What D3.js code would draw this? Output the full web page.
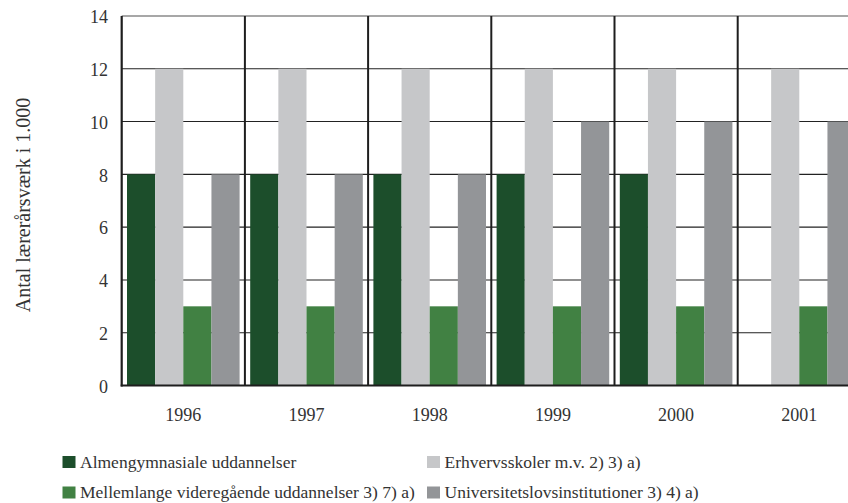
<!DOCTYPE html>
<html><head><meta charset="utf-8">
<script src="https://cdn.jsdelivr.net/npm/d3@7"></script>
<style>body{margin:0;background:#fff;}svg{display:block;} text{font-family:"Liberation Serif","DejaVu Serif",serif;}</style>
</head><body>
<script>
const years = ["1996","1997","1998","1999","2000","2001"];
const seriesNames = ["Almengymnasiale uddannelser","Erhvervsskoler m.v. 2) 3) a)","Mellemlange videregående uddannelser 3) 7) a)","Universitetslovsinstitutioner 3) 4) a)"];
const seriesColors = ["#1c4e2b","#c6c7c9","#418143","#939598"];
const almen = [8,8,8,8,8,null];
const erhverv = [12,12,12,12,12,12];
const mellem = [3,3,3,3,3,3];
const univ = [8,8,8,10,10,10];
const yTicks = [0,2,4,6,8,10,12,14];
const seriesValues = [almen, erhverv, mellem, univ];

(function(){
const W=848,H=503;
const FF='"Liberation Serif", serif';
const svg=d3.select("body").append("svg").attr("width",W).attr("height",H);
const pLeft=121.7, bandW=123.2, pTop=16, pBottom=385.5;
const x=d3.scaleBand().domain(years).range([pLeft,pLeft+bandW*years.length]).paddingInner(0).paddingOuter(0);
const xs=d3.scaleBand().domain(d3.range(4)).range([5.3,bandW-5.3]).padding(0);
const y=d3.scaleLinear().domain([0,14]).range([pBottom,pTop]);

const g=svg.append("g");
g.selectAll("line.grid").data(yTicks.filter(d=>d>0&&d<14)).join("line")
 .attr("x1",pLeft).attr("x2",W).attr("y1",d=>y(d)).attr("y2",d=>y(d))
 .attr("stroke","#222").attr("stroke-width",1.1);
g.append("line").attr("x1",pLeft).attr("x2",W).attr("y1",y(14)).attr("y2",y(14)).attr("stroke","#8a8a8a").attr("stroke-width",1.5);
years.forEach((yr,i)=>{
  seriesValues.forEach((arr,s)=>{
    const v=arr[i]; if(v==null) return;
    g.append("rect").attr("x",x(yr)+xs(s)).attr("width",xs.bandwidth())
     .attr("y",y(v)).attr("height",y(0)-y(v)).attr("fill",seriesColors[s]);
  });
});
g.selectAll("line.sep").data(years.slice(1)).join("line")
 .attr("x1",d=>x(d)).attr("x2",d=>x(d)).attr("y1",pTop).attr("y2",pBottom)
 .attr("stroke","#1e1e1e").attr("stroke-width",2);
g.append("line").attr("x1",pLeft).attr("x2",pLeft).attr("y1",pTop).attr("y2",pBottom+1).attr("stroke","#1e1e1e").attr("stroke-width",2.2);
g.append("line").attr("x1",pLeft-1).attr("x2",W).attr("y1",pBottom).attr("y2",pBottom).attr("stroke","#1e1e1e").attr("stroke-width",2.2);

const ya=d3.axisLeft(y).tickValues(yTicks).tickSize(0).tickPadding(0);
const yg=svg.append("g").attr("transform",`translate(108,0)`).call(ya);
yg.attr("font-family",FF).attr("font-size",18);
yg.select(".domain").remove();
yg.selectAll("text").attr("fill","#333").attr("dy","0.38em");
const xa=d3.axisBottom(x).tickSize(0).tickPadding(0);
const xg=svg.append("g").attr("transform",`translate(0,421)`).call(xa);
xg.attr("font-family",FF).attr("font-size",18);
xg.select(".domain").remove();
xg.selectAll("text").attr("fill","#333").attr("dy","0").attr("y",0);

svg.append("text").attr("transform","translate(30,205) rotate(-90)").attr("text-anchor","middle")
 .attr("font-family",FF).attr("font-size",20).attr("fill","#333").text("Antal lærerårsværk i 1.000");

const legPos=[[62.5,467.5],[427,467.5],[62.5,498],[427,498]];
seriesNames.forEach((n,i)=>{
  const [lx,ly]=legPos[i];
  svg.append("rect").attr("x",lx).attr("y",ly-11.5).attr("width",13).attr("height",12).attr("fill",seriesColors[i]);
  svg.append("text").attr("x",lx+17.5).attr("y",ly).attr("font-family",FF).attr("font-size",17.5).attr("fill","#333").text(n);
});
})();
</script>
</body></html>
